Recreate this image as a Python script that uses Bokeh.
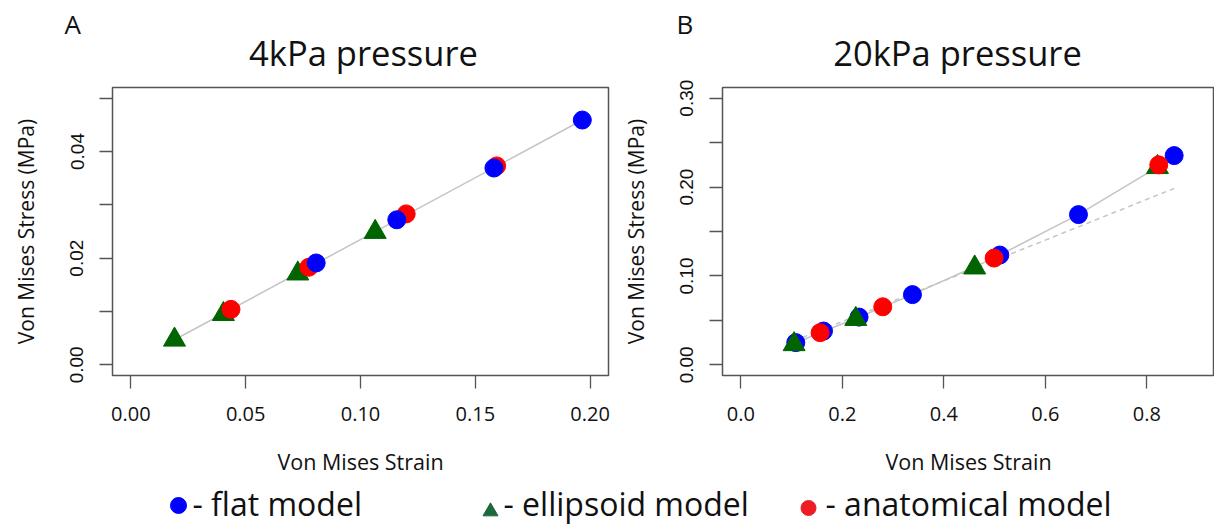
from bokeh.plotting import figure
from bokeh.layouts import row, column
from bokeh.models import Range1d, FixedTicker, PrintfTickFormatter
from bokeh.core.properties import value
from bokeh.embed import file_html
from bokeh.resources import INLINE

# ---------------- data ----------------
# Panel A: 4 kPa pressure
flat_a_x = [0.0807, 0.1158, 0.1581, 0.1966]
flat_a_y = [0.0191, 0.0272, 0.0369, 0.0459]
ell_a_x = [0.0190, 0.0403, 0.0727, 0.1064]
ell_a_y = [0.0047, 0.0095, 0.0171, 0.0249]
anat_a_x = [0.0436, 0.0775, 0.1199, 0.1593]
anat_a_y = [0.0104, 0.0183, 0.0283, 0.0373]
trend_a_x = [0.0190, 0.1966]
trend_a_y = [0.0047, 0.0459]

# Panel B: 20 kPa pressure
flat_b_x = [0.1084, 0.1630, 0.2331, 0.3383, 0.5104, 0.6654, 0.8539]
flat_b_y = [0.0250, 0.0380, 0.0537, 0.0790, 0.1235, 0.1690, 0.2354]
ell_b_x = [0.1051, 0.2266, 0.4609, 0.8210]
ell_b_y = [0.0231, 0.0515, 0.1094, 0.2223]
anat_b_x = [0.1563, 0.2798, 0.4992, 0.8236]
anat_b_y = [0.0362, 0.0653, 0.1201, 0.2250]
trend_b_x = [0.105, 0.160, 0.230, 0.338, 0.460, 0.505, 0.665, 0.821]
trend_b_y = [0.024, 0.037, 0.053, 0.079, 0.110, 0.122, 0.169, 0.2225]
fit_b_x = [0.105, 0.854]
fit_b_y = [0.027, 0.1985]

# ticks
a_xticks = [0.0, 0.05, 0.10, 0.15, 0.20]
a_yticks = [0.0, 0.02, 0.04]
a_yminor = [0.01, 0.03, 0.05]
b_xticks = [0.0, 0.2, 0.4, 0.6, 0.8]
b_yticks = [0.0, 0.10, 0.20, 0.30]
b_yminor = [0.05, 0.15, 0.25]

titles = ["4kPa pressure", "20kPa pressure"]
panel_letters = ["A", "B"]
x_title = "Von Mises Strain"
y_title = "Von Mises Stress (MPa)"
legend_labels = ["- flat model", "- ellipsoid model", "- anatomical model"]

# ---------------- style ----------------
FONT = "Open Sans"
TFONT = "Liberation Sans"
BLUE = "#0000FF"
RED = "#FF0000"
GREEN = "#006400"
LINE = "#c4c4c4"
AXC = "#555555"
TXT = "#111111"


def style_axes(p, xticks, xfmt, yticks, yminor, yfmt):
    p.xgrid.visible = False
    p.ygrid.visible = False
    xa = p.xaxis[0]
    ya = p.yaxis[0]
    xa.ticker = FixedTicker(ticks=xticks, minor_ticks=[])
    ya.ticker = FixedTicker(ticks=yticks, minor_ticks=yminor)
    xa.formatter = PrintfTickFormatter(format=xfmt)
    ya.formatter = PrintfTickFormatter(format=yfmt)
    for ax in (xa, ya):
        ax.axis_line_color = None
        ax.major_tick_in = 0
        ax.major_tick_out = 13
        ax.minor_tick_in = 0
        ax.minor_tick_out = 13
        ax.major_tick_line_color = AXC
        ax.minor_tick_line_color = AXC
        ax.major_tick_line_width = 1.3
        ax.minor_tick_line_width = 1.3
        ax.axis_label_text_font = FONT
        ax.axis_label_text_font_style = "normal"
        ax.axis_label_text_color = TXT
        ax.major_label_text_color = TXT
    xa.major_label_text_font = FONT
    xa.major_label_text_font_size = "20px"
    xa.major_label_standoff = 18
    xa.axis_label = x_title
    xa.axis_label_text_font_size = "21.5px"
    xa.axis_label_standoff = 23
    ya.major_label_text_font = TFONT
    ya.major_label_text_font_size = "19px"
    ya.major_label_orientation = "vertical"
    ya.major_label_standoff = 16
    ya.axis_label = y_title
    ya.axis_label_text_font_size = "21px"
    ya.axis_label_standoff = 28
    p.outline_line_color = AXC
    p.outline_line_width = 1.5
    p.outline_line_alpha = 1.0


# ---------------- heading strip ----------------
head = figure(width=1214, height=78, x_range=Range1d(0, 1214), y_range=Range1d(0, 78),
              output_backend="svg", toolbar_location=None,
              x_axis_type=None, y_axis_type=None, min_border=0)
head.xgrid.visible = False
head.ygrid.visible = False
head.outline_line_color = None
head.text(x=[363, 957], y=[26.5, 26.5], text=titles, text_font=value(FONT),
          text_font_size="34.5px", text_color=TXT, text_align="center",
          text_baseline="alphabetic")
head.text(x=[64, 676], y=[55, 55], text=panel_letters, text_font=value(FONT),
          text_font_size="26px", text_color=TXT, text_align="left",
          text_baseline="alphabetic")

# ---------------- panel A ----------------
pA = figure(width=616, height=400,
            x_range=Range1d(-0.008, 0.208), y_range=Range1d(-0.002, 0.052),
            output_backend="svg", toolbar_location=None,
            min_border_left=112, min_border_right=8,
            min_border_top=6, min_border_bottom=103)
style_axes(pA, a_xticks, "%.2f", a_yticks, a_yminor, "%.2f")

pA.line(trend_a_x, trend_a_y, line_color=LINE, line_width=1.5)
pA.scatter(ell_a_x, ell_a_y, marker="triangle", size=22, color=GREEN)
pA.scatter(anat_a_x, anat_a_y, marker="circle", size=18, color=RED)
pA.scatter(flat_a_x, flat_a_y, marker="circle", size=18, color=BLUE)

# ---------------- panel B ----------------
pB = figure(width=598, height=400,
            x_range=Range1d(-0.036, 0.9334), y_range=Range1d(-0.012, 0.312),
            output_backend="svg", toolbar_location=None,
            min_border_left=106, min_border_right=0,
            min_border_top=9, min_border_bottom=101)
style_axes(pB, b_xticks, "%.1f", b_yticks, b_yminor, "%.2f")

pB.line(fit_b_x, fit_b_y, line_color=LINE, line_width=1.5, line_dash="5 4")
pB.line(trend_b_x, trend_b_y, line_color=LINE, line_width=1.5)
pB.scatter(flat_b_x, flat_b_y, marker="circle", size=18, color=BLUE)
pB.scatter(ell_b_x, ell_b_y, marker="triangle", size=22, color=GREEN)
pB.scatter(anat_b_x, anat_b_y, marker="circle", size=18, color=RED)

# ---------------- legend strip ----------------
leg = figure(width=1214, height=48, x_range=Range1d(0, 1214), y_range=Range1d(0, 48),
             output_backend="svg", toolbar_location=None,
             x_axis_type=None, y_axis_type=None, min_border=0)
leg.xgrid.visible = False
leg.ygrid.visible = False
leg.outline_line_color = None
leg.scatter([178], [21], marker="circle", size=16, color=BLUE)
leg.scatter([490], [15], marker="triangle", size=15, color="#1b6b3a")
leg.scatter([808], [18.5], marker="circle", size=15, color="#ee1c25")
leg.text(x=[192, 503, 825], y=[23.4, 23.4, 23.4], text=legend_labels,
         text_font=value(FONT), text_font_size="32px", text_color=TXT,
         text_align="left", text_baseline="alphabetic")

layout = column(head, row(pA, pB), leg)
open("out.html", "w").write(file_html(layout, INLINE))
